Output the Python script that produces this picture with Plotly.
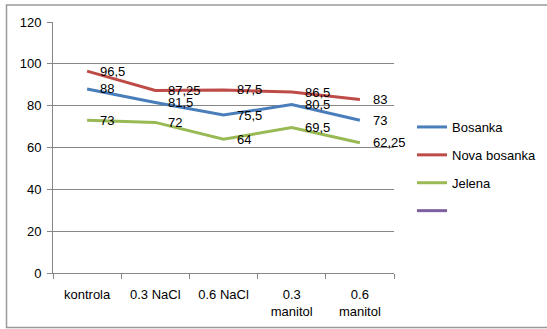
import plotly.graph_objects as go

categories = ["kontrola", "0.3 NaCl", "0.6 NaCl", "0.3<br>manitol", "0.6<br>manitol"]
bosanka = [88, 81.5, 75.5, 80.5, 73]
nova_bosanka = [96.5, 87.25, 87.5, 86.5, 83]
jelena = [73, 72, 64, 69.5, 62.25]
series_names = ["Bosanka", "Nova bosanka", "Jelena", " "]
colors = ["#4A7EBB", "#BE4B48", "#98B954", "#7D60A0"]
y_ticks = [0, 20, 40, 60, 80, 100, 120]

FONT = "Liberation Sans"

fig = go.Figure()
all_series = [bosanka, nova_bosanka, jelena, [None] * len(categories)]
for i, (name, vals, col) in enumerate(zip(series_names, all_series, colors)):
    fig.add_trace(go.Scatter(
        x=categories, y=vals, name=name, mode="lines",
        line=dict(color=col, width=3), legendgroup=f"g{i}",
        connectgaps=False, hoverinfo="skip",
    ))

annotations = []
for vals in [bosanka, nova_bosanka, jelena]:
    for c, v in zip(categories, vals):
        annotations.append(dict(
            x=c, y=v, xref="x", yref="y", text=f"{v:g}".replace(".", ","),
            showarrow=False, xanchor="left", yanchor="middle", xshift=11,
            font=dict(family=FONT, size=13, color="#000000"),
        ))

L, R, T, B = 53, 153, 22, 56
W, H = 547, 329
pw, ph = W - L - R, H - T - B
# outer frame in paper coords
x0 = (6.5 - L) / pw
x1 = (552 - L) / pw
y0 = (H - 327.5 - B) / ph
y1 = (H - 5 - B) / ph

fig.update_layout(
    width=W, height=H,
    margin=dict(l=L, r=R, t=T, b=B, autoexpand=False),
    paper_bgcolor="white", plot_bgcolor="white",
    font=dict(family=FONT, size=12, color="#000000"),
    showlegend=True,
    legend=dict(
        x=(412 - L) / pw, y=(H - 112 - B) / ph, xanchor="left", yanchor="top",
        font=dict(family=FONT, size=13), traceorder="grouped",
        tracegroupgap=8, itemwidth=30, bgcolor="rgba(0,0,0,0)",
    ),
    annotations=annotations,
    shapes=[dict(type="rect", xref="paper", yref="paper", x0=x0, x1=x1, y0=y0, y1=y1,
                 line=dict(color="#9A9A9A", width=1.5), layer="below")],
    xaxis=dict(
        type="category", tickson="boundaries", ticks="outside", ticklen=5,
        tickcolor="#868686", showline=True, linecolor="#868686", linewidth=1,
        showgrid=False, tickfont=dict(family=FONT, size=13), range=[-0.5, 4.5],
        fixedrange=True, automargin=False, ticklabelstandoff=9,
    ),
    yaxis=dict(
        range=[0, 120], tickvals=y_ticks, ticks="outside", ticklen=5,
        tickcolor="#868686", showline=True, linecolor="#868686", linewidth=1,
        showgrid=True, gridcolor="#868686", gridwidth=1, zeroline=False,
        tickfont=dict(family=FONT, size=13), ticklabelstandoff=3, automargin=False,
        fixedrange=True,
    ),
)

fig.write_html(
    "out.html",
    config={"displayModeBar": False, "staticPlot": True},
    post_script="document.body.style.margin='0';document.body.style.overflow='hidden';",
)
